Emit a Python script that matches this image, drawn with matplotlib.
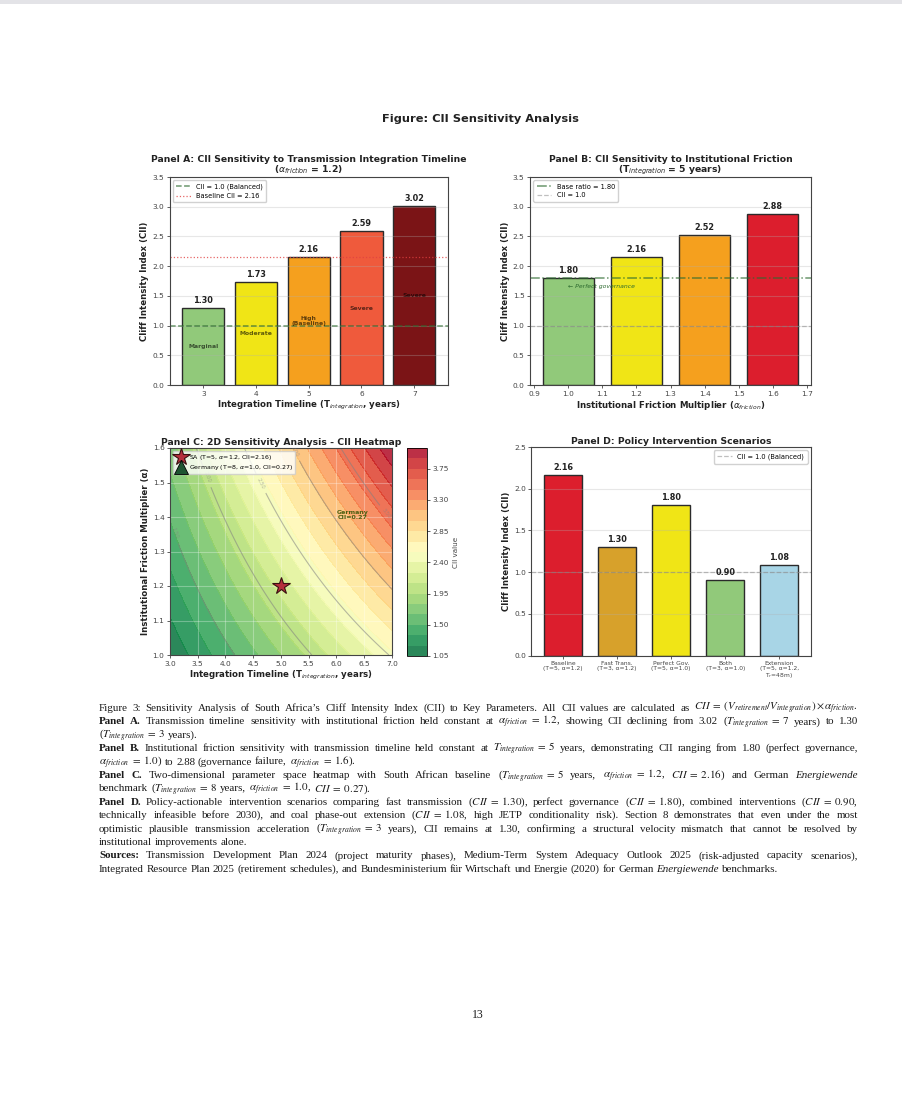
import numpy as np
import matplotlib
matplotlib.use("Agg")
import matplotlib.pyplot as plt
from matplotlib.patches import Rectangle
from matplotlib.ticker import MultipleLocator, FormatStrFormatter

# ---- data ----
# Panel A: CII vs transmission integration timeline (alpha = 1.2)
timeline_years = [3, 4, 5, 6, 7]
cii_by_timeline = [1.30, 1.73, 2.16, 2.59, 3.02]
timeline_levels = ["Marginal", "Moderate", "High\n(Baseline)", "Severe", "Severe"]

# Panel B: CII vs institutional friction (T = 5 years)
friction_values = [1.0, 1.2, 1.4, 1.6]
cii_by_friction = [1.80, 2.16, 2.52, 2.88]

# Panel C: CII = (V_ret / V_int) * alpha, ratio grows 0.36 per year of integration
ratio_per_year = 0.36
heat_T_range = [3.0, 7.0]
heat_alpha_range = [1.0, 1.6]
contour_levels = [1.5, 2.0, 2.5, 3.0, 3.5]
cbar_ticks = [1.05, 1.50, 1.95, 2.40, 2.85, 3.30, 3.75]
sa_point = (5, 1.2)
germany_point = (8, 1.0)

# Panel D: policy scenarios
scenario_labels = ["Baseline\n(T=5, α=1.2)", "Fast Trans.\n(T=3, α=1.2)",
                   "Perfect Gov.\n(T=5, α=1.0)", "Both\n(T=3, α=1.0)",
                   "Extension\n(T=5, α=1.2,\nT$_r$=48m)"]
cii_scenarios = [2.16, 1.30, 1.80, 0.90, 1.08]

W, H = 903, 1112
fig = plt.figure(figsize=(W / 100, H / 100), dpi=100)
fig.patch.set_facecolor("white")


def rect(x0, y0, x1, y1):
    # pixel box (top-left origin) -> figure fraction
    return [x0 / W, 1 - y1 / H, (x1 - x0) / W, (y1 - y0) / H]


def style_axes(ax, tick_fs=5.3):
    for s in ax.spines.values():
        s.set_color("#444444")
        s.set_linewidth(0.8)
    ax.tick_params(labelsize=tick_fs, colors="#444444", length=2.5, width=0.6, pad=1.5)


TITLE_FS = 6.7
LABEL_FS = 6.2
VAL_FS = 5.9
LEG_FS = 4.8
# grey strip at the top of the page
fig.add_artist(Rectangle((0, 1 - 4 / H), 1, 4 / H, transform=fig.transFigure,
                         color="#e3e3e7", lw=0))

fig.text(480 / W, 1 - 119 / H, "Figure: CII Sensitivity Analysis", ha="center",
         va="center", fontsize=8.2, fontweight="bold", color="#222222")

# ---- Panel A ----
axA = fig.add_axes(rect(169.5, 177, 448, 385))
colorsA = ["#91c97a", "#f0e516", "#f5a01e", "#ef5a3c", "#7b1416"]
axA.bar(timeline_years, cii_by_timeline, width=0.8, color=colorsA,
        edgecolor="#2b2b2b", linewidth=1.0)
axA.axhline(1.0, color="#2e6b30", ls="--", lw=1.1, alpha=0.7, label="CII = 1.0 (Balanced)")
axA.axhline(2.16, color="#e04040", ls=":", lw=0.9, alpha=0.8, label="Baseline CII = 2.16")
for x, v, lab in zip(timeline_years, cii_by_timeline, timeline_levels):
    axA.text(x, v + 0.05, f"{v:.2f}", ha="center", va="bottom", fontsize=VAL_FS,
             fontweight="bold", color="#222222")
    axA.text(x, v / 2, lab, ha="center", va="center", fontsize=4.4,
             fontweight="bold", color="black", alpha=0.6, linespacing=1.0)
axA.set_ylim(0, 3.5)
axA.set_xticks(timeline_years)
axA.grid(axis="y", alpha=0.3)
axA.set_title("Panel A: CII Sensitivity to Transmission Integration Timeline\n"
              "($\\alpha_{friction}$ = 1.2)", fontsize=TITLE_FS, fontweight="bold",
              pad=3, linespacing=1.0, color="#222222")
axA.set_xlabel("Integration Timeline (T$_{integration}$, years)", fontsize=LABEL_FS,
               fontweight="bold", labelpad=1.5, color="#222222")
axA.set_ylabel("Cliff Intensity Index (CII)", fontsize=LABEL_FS, fontweight="bold",
               labelpad=2, color="#222222")
axA.legend(loc="upper left", fontsize=LEG_FS, framealpha=0.9, handlelength=2.2,
           borderpad=0.5, labelspacing=0.4, edgecolor="#cccccc")
style_axes(axA)

# ---- Panel B ----
axB = fig.add_axes(rect(530, 177, 811, 385))
colorsB = ["#91c97a", "#f0e516", "#f5a01e", "#dc1e2d"]
axB.bar(friction_values, cii_by_friction, width=0.15, color=colorsB,
        edgecolor="#2b2b2b", linewidth=1.0)
axB.axhline(cii_by_friction[0], color="#2e6b30", ls="-.", lw=1.1, alpha=0.7,
            label="Base ratio = 1.80")
axB.axhline(1.0, color="gray", ls="--", lw=0.9, alpha=0.5, label="CII = 1.0")
for x, v in zip(friction_values, cii_by_friction):
    axB.text(x, v + 0.05, f"{v:.2f}", ha="center", va="bottom", fontsize=VAL_FS,
             fontweight="bold", color="#222222")
axB.text(friction_values[0], 1.65, "← Perfect governance", ha="left", va="center",
         fontsize=4.4, fontstyle="italic", color="#2e6b30")
axB.set_ylim(0, 3.5)
axB.xaxis.set_major_locator(MultipleLocator(0.1))
axB.grid(axis="y", alpha=0.3)
axB.set_title("Panel B: CII Sensitivity to Institutional Friction\n"
              "(T$_{integration}$ = 5 years)", fontsize=TITLE_FS, fontweight="bold",
              pad=3, linespacing=1.0, color="#222222")
axB.set_xlabel("Institutional Friction Multiplier ($\\alpha_{friction}$)", fontsize=LABEL_FS,
               fontweight="bold", labelpad=1.5, color="#222222")
axB.set_ylabel("Cliff Intensity Index (CII)", fontsize=LABEL_FS, fontweight="bold",
               labelpad=2, color="#222222")
axB.legend(loc="upper left", fontsize=LEG_FS, framealpha=0.9, handlelength=2.2,
           borderpad=0.5, labelspacing=0.4, edgecolor="#cccccc")
style_axes(axB)

# ---- Panel C ----
axC = fig.add_axes(rect(170, 448, 392, 655))
Tg = np.linspace(heat_T_range[0], heat_T_range[1], 200)
Ag = np.linspace(heat_alpha_range[0], heat_alpha_range[1], 200)
TT, AA = np.meshgrid(Tg, Ag)
ZZ = ratio_per_year * TT * AA
fill_levels = np.arange(1.05, 4.06, 0.15)
cf = axC.contourf(TT, AA, ZZ, levels=fill_levels, cmap="RdYlGn_r", alpha=0.85)
cs = axC.contour(TT, AA, ZZ, levels=contour_levels, colors="gray", alpha=0.55,
                 linewidths=0.8)
axC.clabel(cs, fontsize=3.8, fmt="%.2f")
axC.plot(*sa_point, marker="*", ms=13, color="#b5303c", mec="#3a1010", mew=0.8,
         ls="none", label="SA (T=5, $\\alpha$=1.2, CII=2.16)")
axC.plot(*germany_point, marker="^", ms=10, color="#1e5631", mec="black", mew=0.6,
         ls="none", label="Germany (T=8, $\\alpha$=1.0, CII=0.27)")
axC.text(6.3, 1.405, "Germany\nCII=0.27", ha="center", va="center", fontsize=4.5,
         fontweight="bold", color="#4d5e12", linespacing=1.0)
axC.set_xlim(*heat_T_range)
axC.set_ylim(*heat_alpha_range)
axC.xaxis.set_major_locator(MultipleLocator(0.5))
axC.yaxis.set_major_locator(MultipleLocator(0.1))
axC.xaxis.set_major_formatter(FormatStrFormatter("%.1f"))
axC.grid(color="white", alpha=0.3, lw=0.8)
axC.set_title("Panel C: 2D Sensitivity Analysis - CII Heatmap", fontsize=TITLE_FS,
              fontweight="bold", pad=2.5, color="#222222")
axC.set_xlabel("Integration Timeline (T$_{integration}$, years)", fontsize=LABEL_FS,
               fontweight="bold", labelpad=1.5, color="#222222")
axC.set_ylabel("Institutional Friction Multiplier (α)", fontsize=LABEL_FS,
               fontweight="bold", labelpad=2, color="#222222")
axC.legend(loc="upper left", fontsize=4.5, framealpha=0.8, borderpad=0.3,
           labelspacing=0.2, handletextpad=0.3, edgecolor="#cccccc")
style_axes(axC)

cax = fig.add_axes(rect(407, 448, 427, 656))
cb = fig.colorbar(cf, cax=cax, ticks=cbar_ticks)
cb.ax.yaxis.set_major_formatter(FormatStrFormatter("%.2f"))
cb.set_label("CII value", fontsize=5.2, color="#444444", labelpad=3)
cb.outline.set_linewidth(0.6)
cb.ax.tick_params(labelsize=5.3, colors="#444444", length=2.5, width=0.6, pad=1.5)

# ---- Panel D ----
axD = fig.add_axes(rect(531.5, 447, 811, 655.5))
colorsD = ["#dc1e2d", "#d7a12b", "#f0e516", "#91c97a", "#a8d5e6"]
xD = np.arange(len(cii_scenarios))
axD.bar(xD, cii_scenarios, width=0.7, color=colorsD, edgecolor="#2b2b2b", linewidth=1.0)
axD.axhline(1.0, color="gray", ls="--", lw=0.9, alpha=0.5, label="CII = 1.0 (Balanced)")
for x, v in zip(xD, cii_scenarios):
    axD.text(x, v + 0.04, f"{v:.2f}", ha="center", va="bottom", fontsize=VAL_FS,
             fontweight="bold", color="#222222")
axD.set_ylim(0, 2.5)
axD.set_xticks(xD)
axD.set_xticklabels(scenario_labels, linespacing=1.0)
axD.grid(axis="y", alpha=0.3)
axD.set_title("Panel D: Policy Intervention Scenarios", fontsize=TITLE_FS,
              fontweight="bold", pad=2.5, color="#222222")
axD.set_ylabel("Cliff Intensity Index (CII)", fontsize=LABEL_FS, fontweight="bold",
               labelpad=2, color="#222222")
axD.legend(loc="upper right", fontsize=LEG_FS, framealpha=0.9, handlelength=2.2,
           borderpad=0.5, edgecolor="#cccccc")
style_axes(axD)
axD.tick_params(axis="x", labelsize=4.3)

# ---- caption (justified, LaTeX-like) ----
EQ = "\\;=\\;"
cap_lines = [
    ([("n", "Figure 3: Sensitivity Analysis of South Africa’s Cliff Intensity Index (CII) to Key Parameters. All CII values are calculated as $CII" + EQ + "(V_{retirement}/V_{integration})\\,{\\times}\\,\\alpha_{friction}$.")], True),
    ([("b", "Panel A."), ("n", "Transmission timeline sensitivity with institutional friction held constant at $\\alpha_{friction}" + EQ + "1.2$, showing CII declining from 3.02 ($T_{integration}" + EQ + "7$ years) to 1.30")], True),
    ([("n", "($T_{integration}" + EQ + "3$ years).")], False),
    ([("b", "Panel B."), ("n", "Institutional friction sensitivity with transmission timeline held constant at $T_{integration}" + EQ + "5$ years, demonstrating CII ranging from 1.80 (perfect governance,")], True),
    ([("n", "$\\alpha_{friction}" + EQ + "1.0$) to 2.88 (governance failure, $\\alpha_{friction}" + EQ + "1.6$).")], False),
    ([("b", "Panel C."), ("n", "Two-dimensional parameter space heatmap with South African baseline ($T_{integration}" + EQ + "5$ years, $\\alpha_{friction}" + EQ + "1.2$, $CII" + EQ + "2.16$) and German"), ("i", "Energiewende")], True),
    ([("n", "benchmark ($T_{integration}" + EQ + "8$ years, $\\alpha_{friction}" + EQ + "1.0$, $CII" + EQ + "0.27$).")], False),
    ([("b", "Panel D."), ("n", "Policy-actionable intervention scenarios comparing fast transmission ($CII" + EQ + "1.30$), perfect governance ($CII" + EQ + "1.80$), combined interventions ($CII" + EQ + "0.90$,")], True),
    ([("n", "technically infeasible before 2030), and coal phase-out extension ($CII" + EQ + "1.08$, high JETP conditionality risk). Section 8 demonstrates that even under the most")], True),
    ([("n", "optimistic plausible transmission acceleration ($T_{integration}" + EQ + "3$ years), CII remains at 1.30, confirming a structural velocity mismatch that cannot be resolved by")], True),
    ([("n", "institutional improvements alone.")], False),
    ([("b", "Sources:"), ("n", "Transmission Development Plan 2024 (project maturity phases), Medium-Term System Adequacy Outlook 2025 (risk-adjusted capacity scenarios),")], True),
    ([("n", "Integrated Resource Plan 2025 (retirement schedules), and Bundesministerium für Wirtschaft und Energie (2020) for German"), ("i", "Energiewende"), ("n", "benchmarks.")], False),
]
CAP_X0, CAP_X1 = 99, 858
CAP_Y0, CAP_DY = 711, 13.4
CAP_FS = 7.9
MIN_GAP = 1.5
renderer = fig.canvas.get_renderer()


def cap_text(style, word, fs):
    kw = dict(fontsize=fs, family="Liberation Serif", math_fontfamily="stix",
              va="baseline", ha="left", color="#1a1a1a")
    if style == "b":
        kw["fontweight"] = "bold"
    if style == "i":
        kw["fontstyle"] = "italic"
    return fig.text(0, 0, word, **kw)


def tokens(line):
    return [(st, w) for st, txt in line for w in txt.split(" ") if w]


span = CAP_X1 - CAP_X0
for i, (line, just) in enumerate(cap_lines):
    ybase = 1 - (CAP_Y0 + i * CAP_DY) / H
    toks = tokens(line)
    fs = CAP_FS
    texts = [cap_text(st, w, fs) for st, w in toks]
    widths = [t.get_window_extent(renderer).width for t in texts]
    n = len(texts)
    if sum(widths) + (n - 1) * MIN_GAP > span:
        # overfull line: shrink it a touch so it still fits the column
        fs = fs * (span - (n - 1) * MIN_GAP) / sum(widths)
        for t in texts:
            t.set_fontsize(fs)
        widths = [t.get_window_extent(renderer).width for t in texts]
    space = 0.25 * fs * 100 / 72
    gap = (span - sum(widths)) / (n - 1) if just else space
    x = CAP_X0
    for t, w in zip(texts, widths):
        t.set_position((x / W, ybase))
        x += w + gap

fig.text(478 / W, 1 - 1015 / H, "13", ha="center", va="center", fontsize=8.5,
         family="Liberation Serif", color="#1a1a1a")

fig.savefig("out.png", dpi=100)
